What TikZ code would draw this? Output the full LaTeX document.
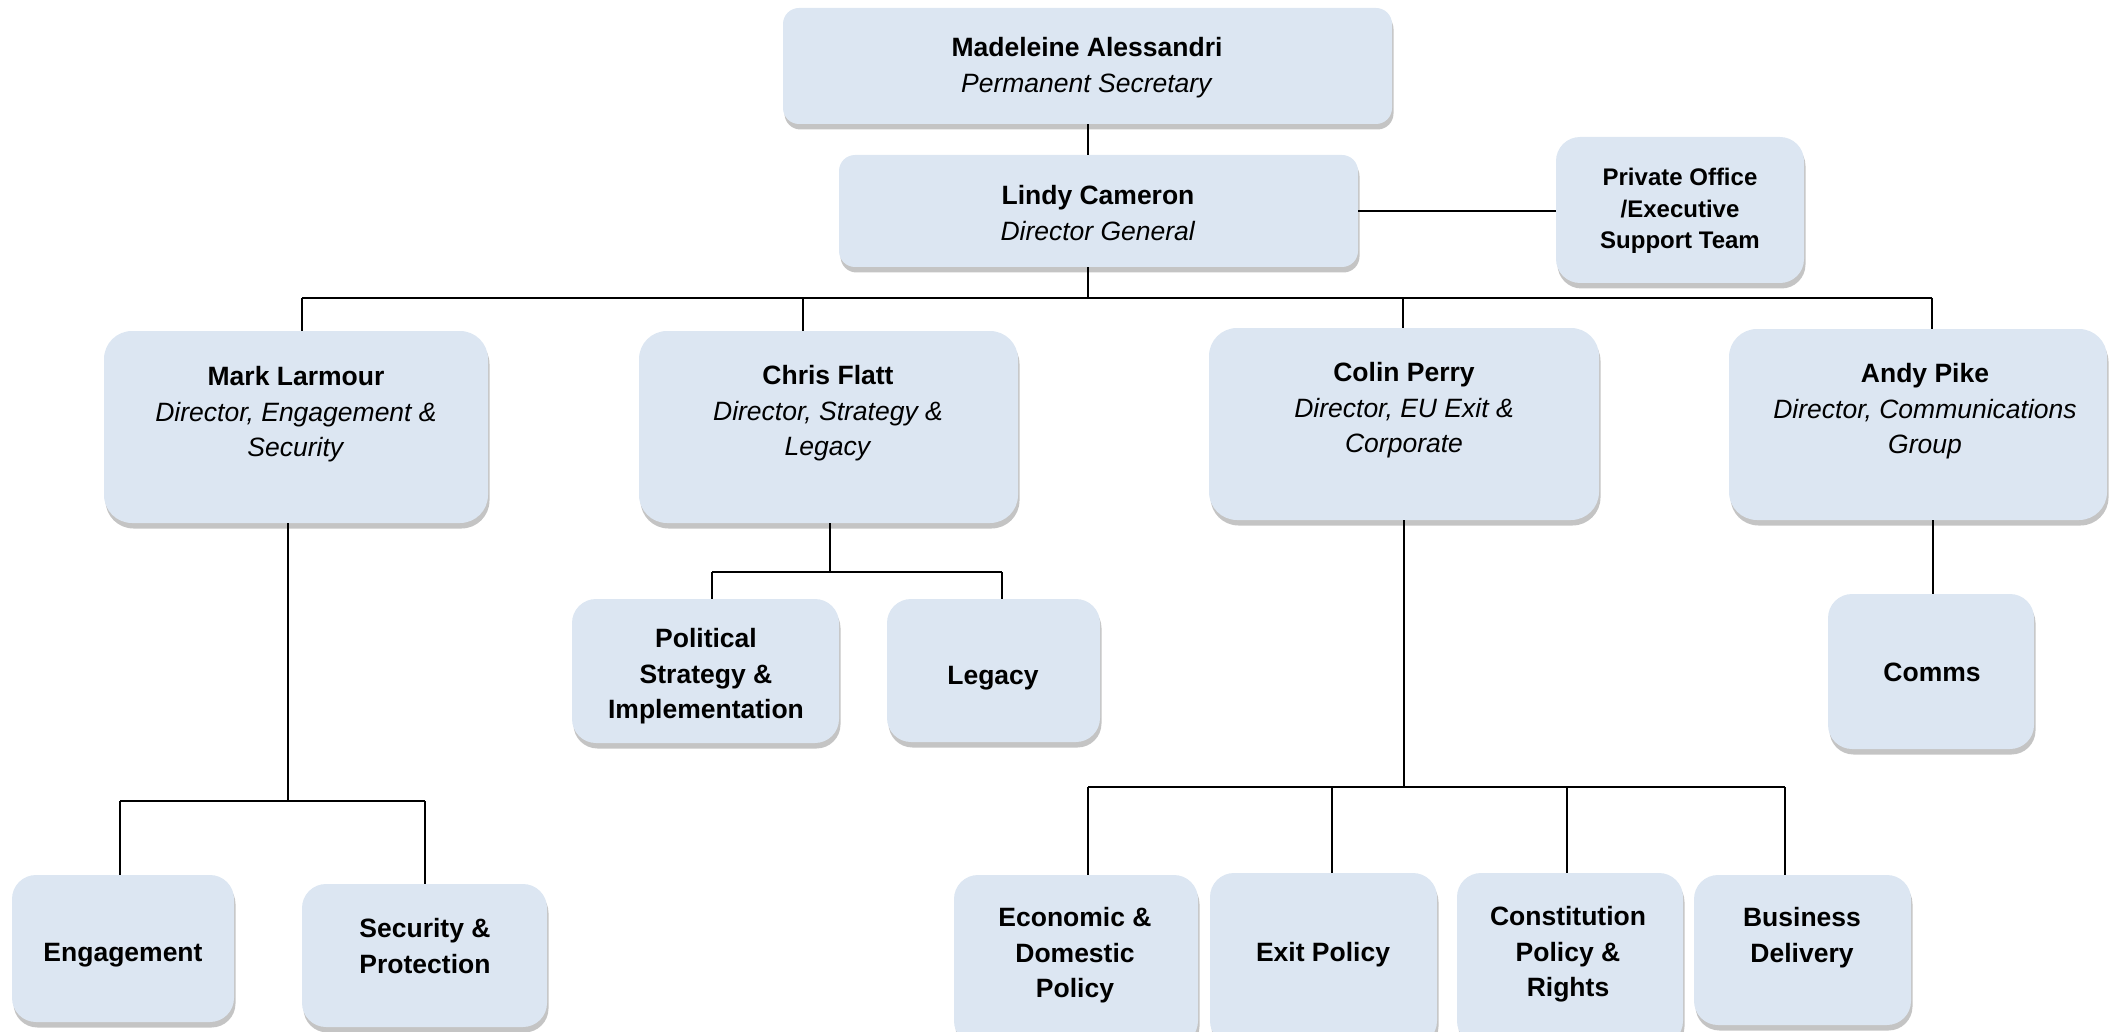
\documentclass[tikz,border=0pt]{standalone}
\usepackage{fontspec}
\setmainfont{Liberation Sans}
\definecolor{boxfill}{HTML}{DCE6F2}
\definecolor{shadowc}{HTML}{C4C4C4}
\tikzset{
  orgbox/.style={draw=none, fill=boxfill, inner sep=0pt},
  conn/.style={draw=black, line width=1.7pt},
  namefont/.style={font=\fontsize{26.5}{35.5}\selectfont, align=center, inner sep=0pt, anchor=north},
  unitfont/.style={font=\fontsize{26.5}{35.5}\selectfont\bfseries, align=center, inner sep=0pt, anchor=north},
  smallfont/.style={font=\fontsize{24}{31.5}\selectfont\bfseries, align=center, inner sep=0pt, anchor=north}
}
% #1 name, #2 x1, #3 y1, #4 x2, #5 y2, #6 corner radius
\newcommand\drawbox[6]{%
  \fill[shadowc, rounded corners=#6pt] (#2+1.5,#3+5) rectangle (#4+1.5,#5+5.5);
  \node[orgbox, rounded corners=#6pt, minimum width={#4-#2}, minimum height={#5-#3}] (#1) at ({(#2+#4)/2},{(#3+#5)/2}) {};
}
\begin{document}
\begin{tikzpicture}[x=1pt,y=-1pt]
\useasboundingbox (0,0) rectangle (2109,1032);
\begin{scope}
\clip (0,0) rectangle (2109,1032);
% boxes
\drawbox{mad}{783}{8}{1392}{124}{16}
\drawbox{lindy}{839}{155}{1358}{267}{16}
\drawbox{po}{1556}{137}{1804}{283}{24}
\drawbox{mark}{104}{331}{488}{523}{28}
\drawbox{chris}{639}{331}{1018}{523}{28}
\drawbox{colin}{1209}{328}{1599}{520}{28}
\drawbox{andy}{1729}{329}{2107}{520}{28}
\drawbox{pol}{572}{599}{839}{743}{24}
\drawbox{leg}{887}{599}{1100}{742}{24}
\drawbox{comms}{1828}{594}{2034}{749}{24}
\drawbox{eng}{12}{875}{234}{1022}{24}
\drawbox{sec}{302}{884}{547}{1027}{24}
\drawbox{eco}{954}{875}{1198}{1045}{24}
\drawbox{exit}{1210}{873}{1437}{1045}{24}
\drawbox{con}{1457}{873}{1683}{1045}{24}
\drawbox{bus}{1694}{875}{1911}{1025}{24}
\end{scope}

% texts
\node[namefont] (madT) at (1087,37.5) {\textbf{Madeleine Alessandri}\\\textit{Permanent Secretary}};
\node[namefont] (lindyT) at (1098,185.5) {\textbf{Lindy Cameron}\\\textit{Director General}};
\node[smallfont] (poT) at (1680,168.4) {Private Office\\/Executive\\Support Team};
\node[namefont] (markT) at (296,366.5) {\textbf{Mark Larmour}\\\textit{Director, Engagement \&}\\\textit{Security}};
\node[namefont] (chrisT) at (828,365.5) {\textbf{Chris Flatt}\\\textit{Director, Strategy \&}\\\textit{Legacy}};
\node[namefont] (colinT) at (1404,362.5) {\textbf{Colin Perry}\\\textit{Director, EU Exit \&}\\\textit{Corporate}};
\node[namefont] (andyT) at (1925,363.5) {\textbf{Andy Pike}\\\textit{Director, Communications}\\\textit{Group}};
\node[unitfont] (polT) at (706,628.5) {Political\\Strategy \&\\Implementation};
\node[unitfont] (legT) at (993,666.5) {Legacy};
\node[unitfont] (commsT) at (1932,662.5) {Comms};
\node[unitfont] (engT) at (123,943.5) {Engagement};
\node[unitfont] (secT) at (425,918.5) {Security \&\\Protection};
\node[unitfont] (ecoT) at (1075,907.5) {Economic \&\\Domestic\\Policy};
\node[unitfont] (exitT) at (1323,942.5) {Exit Policy};
\node[unitfont] (conT) at (1568,906.5) {Constitution\\Policy \&\\Rights};
\node[unitfont] (busT) at (1802,907.5) {Business\\Delivery};

% bus coordinates
\coordinate (top) at (1088,298);
\coordinate (bM) at (302,298);
\coordinate (bC) at (803,298);
\coordinate (bP) at (1403,298);
\coordinate (bA) at (1932,298);
\coordinate (mk) at (288,801);
\coordinate (mkL) at (120,801);
\coordinate (mkR) at (425,801);
\coordinate (ch) at (830,572);
\coordinate (chL) at (712,572);
\coordinate (chR) at (1002,572);
\coordinate (cp) at (1404,787);
\coordinate (cp1) at (1088,787);
\coordinate (cp2) at (1332,787);
\coordinate (cp3) at (1567,787);
\coordinate (cp4) at (1785,787);
\coordinate (ap) at (1933,520);

% connectors
\draw[conn] (mad.south -| top) -- (lindy.north -| top);
\draw[conn] (lindy.east) -- (lindy.east -| po.west);
\draw[conn] (lindy.south -| top) -- (top);
\draw[conn] (bM) -- (bA);
\draw[conn] (bM) -- (bM |- mark.north);
\draw[conn] (bC) -- (bC |- chris.north);
\draw[conn] (bP) -- (bP |- colin.north);
\draw[conn] (bA) -- (bA |- andy.north);
% Mark
\draw[conn] (mark.south -| mk) -- (mk);
\draw[conn] (mkL) -- (mkR);
\draw[conn] (mkL) -- (mkL |- eng.north);
\draw[conn] (mkR) -- (mkR |- sec.north);
% Chris
\draw[conn] (chris.south -| ch) -- (ch);
\draw[conn] (chL) -- (chR);
\draw[conn] (chL) -- (chL |- pol.north);
\draw[conn] (chR) -- (chR |- leg.north);
% Colin
\draw[conn] (colin.south -| cp) -- (cp);
\draw[conn] (cp1) -- (cp4);
\draw[conn] (cp1) -- (cp1 |- eco.north);
\draw[conn] (cp2) -- (cp2 |- exit.north);
\draw[conn] (cp3) -- (cp3 |- con.north);
\draw[conn] (cp4) -- (cp4 |- bus.north);
% Andy
\draw[conn] (ap) -- (ap |- comms.north);
\end{tikzpicture}
\end{document}
